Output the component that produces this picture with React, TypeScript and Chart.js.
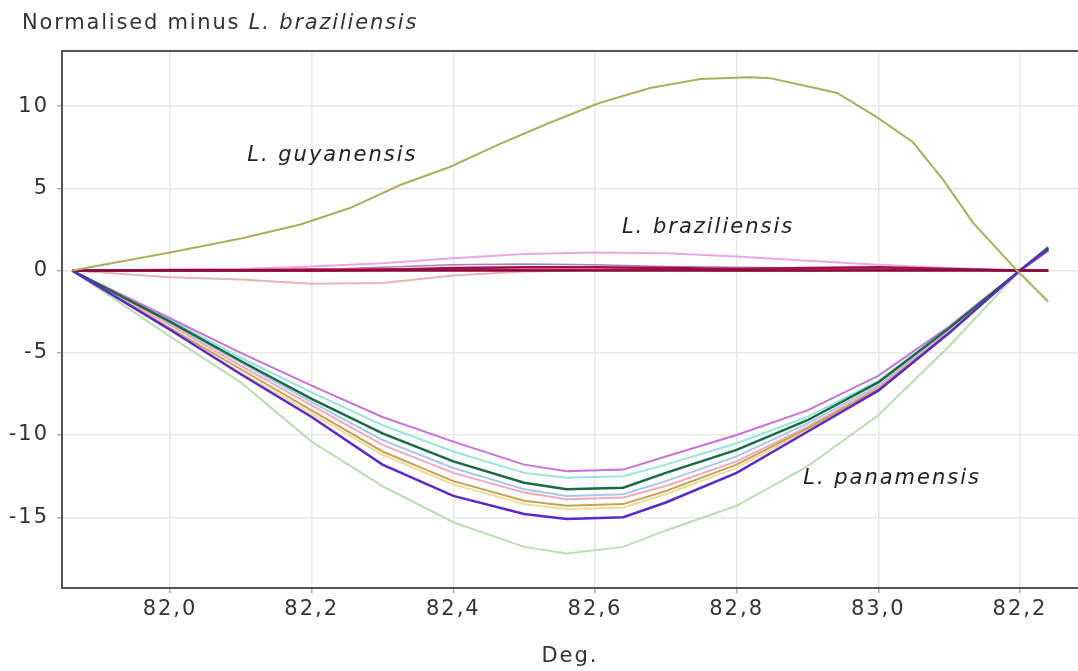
import React, { useEffect, useRef } from "react";
import { Chart, registerables } from "chart.js";
Chart.register(...registerables);

const FONT = '"DejaVu Sans", Verdana, sans-serif';

// X tick labels as shown in the reference
const xTickLabels = ["82,0", "82,2", "82,4", "82,6", "82,8", "83,0", "82,2"];

// L. guyanensis
const guyX = [81.862, 82.0, 82.1, 82.184, 82.254, 82.325, 82.395, 82.466, 82.537, 82.607, 82.678, 82.749, 82.819, 82.847, 82.89, 82.942, 82.999, 83.049, 83.092, 83.134, 83.196, 83.24];
const guyY = [0, 1.1, 1.95, 2.8, 3.8, 5.2, 6.3, 7.7, 9.0, 10.2, 11.1, 11.65, 11.75, 11.7, 11.3, 10.8, 9.3, 7.8, 5.5, 2.9, 0, -1.9];

// L. braziliensis group
const brazX = [81.862, 82.0, 82.1, 82.2, 82.3, 82.4, 82.5, 82.6, 82.7, 82.8, 82.9, 83.0, 83.1, 83.2, 83.24];
const brazRef = [0, 0, 0, 0, 0, 0, 0, 0, 0, 0, 0, 0, 0, 0, 0];
const brazLavender = [0, 0.05, 0.1, 0.25, 0.45, 0.75, 1.0, 1.1, 1.05, 0.85, 0.6, 0.35, 0.15, 0, 0];
const brazSalmon = [0, -0.4, -0.55, -0.8, -0.75, -0.3, -0.05, 0, 0, 0, 0, 0, 0, 0, 0];
const brazMaroon = [0, 0, 0, 0, 0.05, 0.15, 0.2, 0.2, 0.15, 0.1, 0.15, 0.2, 0.1, 0, 0];
const brazRed = [0, 0.05, 0.05, 0.1, 0.1, 0.1, 0.05, 0.05, 0.05, 0, 0, 0.05, 0.05, 0, 0];
const brazMauve = [0, 0, 0, 0.05, 0.2, 0.35, 0.4, 0.35, 0.25, 0.2, 0.15, 0.1, 0.05, 0, 0];

// L. panamensis group
const panX = [81.862, 82.0, 82.1, 82.2, 82.3, 82.4, 82.5, 82.56, 82.64, 82.7, 82.8, 82.9, 83.0, 83.1, 83.2, 83.24];
const panMagenta = [0, -2.9, -5.0, -7.0, -8.9, -10.4, -11.8, -12.2, -12.1, -11.3, -10.0, -8.5, -6.4, -3.4, 0, 1.2];
const panCyan = [0, -3.0, -5.3, -7.4, -9.4, -11.0, -12.3, -12.6, -12.5, -11.8, -10.5, -8.9, -6.7, -3.5, 0, 1.3];
const panDarkGreen = [0, -3.1, -5.5, -7.8, -9.9, -11.6, -12.9, -13.3, -13.2, -12.3, -10.9, -9.1, -6.8, -3.5, 0, 1.4];
const panLightBlue = [0, -3.2, -5.6, -8.0, -10.3, -12.0, -13.3, -13.7, -13.6, -12.8, -11.3, -9.3, -7.0, -3.6, 0, 1.3];
const panPink = [0, -3.3, -5.8, -8.2, -10.6, -12.3, -13.5, -13.9, -13.8, -13.1, -11.6, -9.5, -7.1, -3.7, 0, 1.3];
const panTan = [0, -3.5, -6.0, -8.5, -11.0, -12.8, -14.0, -14.3, -14.2, -13.4, -11.8, -9.6, -7.2, -3.8, 0, 1.4];
const panYellow = [0, -3.6, -6.2, -8.7, -11.2, -13.0, -14.2, -14.5, -14.4, -13.6, -12.0, -9.7, -7.3, -3.8, 0, 1.3];
const panViolet = [0, -3.6, -6.3, -8.9, -11.8, -13.7, -14.8, -15.1, -15.0, -14.1, -12.3, -9.8, -7.3, -3.8, 0, 1.3];
const panLightGreen = [0, -4.0, -6.8, -10.4, -13.1, -15.3, -16.8, -17.2, -16.8, -15.8, -14.3, -11.9, -8.8, -4.6, 0, 1.2];

// In-plot labels (data coordinates of their left/middle anchor)
const labelTexts = ["L. guyanensis", "L. braziliensis", "L. panamensis"];
const labelX = [82.109, 82.638, 82.894];
const labelY = [7.0, 2.6, -12.65];

const pts = (xs: number[], ys: number[]) => xs.map((x, i) => ({ x, y: ys[i] }));

const ds = (label: string, xs: number[], ys: number[], color: string, width = 2) => ({
  label,
  data: pts(xs, ys),
  borderColor: color,
  backgroundColor: color,
  borderWidth: width,
  pointRadius: 0,
  tension: 0,
  fill: false,
});

const annotPlugin = {
  id: "annot",
  beforeDraw(chart: any) {
    const ctx = chart.ctx;
    try { (ctx as any).letterSpacing = "2px"; } catch (e) {}
  },
  afterDatasetsDraw(chart: any) {
    const { ctx, scales } = chart;
    ctx.save();
    try { (ctx as any).letterSpacing = "2px"; } catch (e) {}
    ctx.font = `italic 21px ${FONT}`;
    ctx.fillStyle = "#222";
    ctx.textAlign = "left";
    ctx.textBaseline = "middle";
    labelTexts.forEach((t, i) => {
      ctx.fillText(t, scales.x.getPixelForValue(labelX[i]), scales.y.getPixelForValue(labelY[i]));
    });
    ctx.restore();
  },
  afterDraw(chart: any) {
    const { ctx, chartArea } = chart;
    ctx.save();
    ctx.strokeStyle = "#555";
    ctx.lineWidth = 2;
    ctx.beginPath();
    ctx.moveTo(chartArea.left, chartArea.top);
    ctx.lineTo(chartArea.right, chartArea.top);
    ctx.stroke();
    ctx.restore();
  },
};

export default function App() {
  const ref = useRef<HTMLCanvasElement | null>(null);

  useEffect(() => {
    if (!ref.current) return;
    const tickFont = { family: FONT, size: 21 };
    const chart = new Chart(ref.current, {
      type: "line",
      data: {
        datasets: [
          ds("L. guyanensis", guyX, guyY, "#a9ae5c"),
          ds("ref", brazX, brazRef, "#8a0a3c", 2.5),
          ds("maroon", brazX, brazMaroon, "#a0104a", 2.5),
          ds("red", brazX, brazRed, "#f04060"),
          ds("mauve", brazX, brazMauve, "#b07ab8", 1.5),
          ds("lavender", brazX, brazLavender, "#e8a8e8"),
          ds("salmon", brazX, brazSalmon, "#e8b4b4"),
          ds("violet", panX, panViolet, "#5a2ac8", 2.5),
          ds("darkgreen", panX, panDarkGreen, "#1a6a44", 2.5),
          ds("magenta", panX, panMagenta, "#c474d8"),
          ds("tan", panX, panTan, "#c8a058"),
          ds("yellow", panX, panYellow, "#ecdc94"),
          ds("pink", panX, panPink, "#f0a8bc"),
          ds("lightblue", panX, panLightBlue, "#a8c8ec"),
          ds("cyan", panX, panCyan, "#98e4dc"),
          ds("lightgreen", panX, panLightGreen, "#bcdcb4"),
        ],
      },
      options: {
        animation: false,
        responsive: false,
        maintainAspectRatio: false,
        layout: { padding: { top: 51, right: 0, left: 0, bottom: 0 } },
        plugins: {
          legend: { display: false },
          tooltip: { enabled: false },
          title: { display: false },
        },
        scales: {
          x: {
            type: "linear",
            min: 81.8475,
            max: 83.282,
            afterFit: (s: any) => { s.height = 83; },
            ticks: {
              stepSize: 0.2,
              includeBounds: false,
              maxRotation: 0,
              minRotation: 0,
              autoSkip: false,
              padding: 4,
              color: "#333",
              font: tickFont,
              callback: (v: any) => {
                const idx = Math.round((Number(v) - 82.0) / 0.2);
                return xTickLabels[idx] ?? "";
              },
            },
            grid: { color: "#e8e8e8", lineWidth: 1.5, tickLength: 5, tickColor: "#aaa" },
            border: { color: "#555", width: 2 },
            title: {
              display: true,
              text: "Deg.",
              color: "#333",
              font: tickFont,
              padding: { top: 0, bottom: 2 },
            },
          },
          y: {
            type: "linear",
            min: -19.3,
            max: 13.35,
            afterFit: (s: any) => { s.width = 62; },
            ticks: {
              stepSize: 5,
              includeBounds: false,
              padding: 8,
              color: "#333",
              font: tickFont,
            },
            grid: { color: "#e8e8e8", lineWidth: 1.5, tickLength: 5, tickColor: "#aaa" },
            border: { color: "#555", width: 2 },
          },
        },
      },
      plugins: [annotPlugin],
    } as any);
    return () => chart.destroy();
  }, []);

  return (
    <div style={{ position: "absolute", left: 0, top: 0, width: 1078, height: 671, background: "#fff" }}>
      <canvas ref={ref} width={1078} height={671} style={{ display: "block", width: 1078, height: 671 }} />
      <div
        style={{
          position: "absolute",
          left: 22,
          top: 12,
          fontFamily: FONT,
          fontSize: 21,
          lineHeight: "21px",
          letterSpacing: "1.8px",
          color: "#333",
          whiteSpace: "nowrap",
        }}
      >
        Normalised minus <i>L. braziliensis</i>
      </div>
    </div>
  );
}
